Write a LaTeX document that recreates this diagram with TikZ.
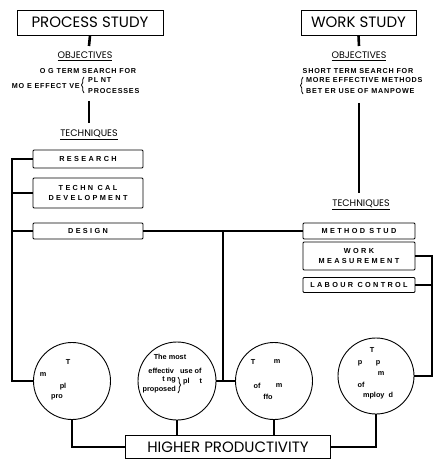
\documentclass[tikz,border=0pt]{standalone}
\usepackage{fontspec}
\setmainfont{Liberation Sans}
\newfontfamily\geo{Poppins}
\newfontfamily\lblfont{Liberation Sans}[LetterSpace=32]
\newfontfamily\txtfont{Liberation Sans}[LetterSpace=11]
\usetikzlibrary{decorations.pathreplacing}

\tikzset{
  titlebox/.style={draw, line width=0.9pt, inner sep=0pt, minimum height=25pt,
    font=\geo\fontsize{15}{15}\selectfont},
  heading/.style={inner sep=0pt, font=\geo\fontsize{9.5}{10}\selectfont},
  small/.style={inner sep=0pt, font=\txtfont\bfseries\fontsize{7.2}{8}\selectfont},
  techbox/.style={draw, line width=0.8pt, rounded corners=1pt, inner sep=0pt,
    minimum width=110pt, align=center, font=\lblfont\bfseries\fontsize{7.3}{9.5}\selectfont},
  circ/.style={circle, draw, line width=0.9pt, inner sep=0pt},
  ctext/.style={inner sep=0pt, font=\bfseries\fontsize{7.3}{8}\selectfont},
  stem/.style={line width=2.6pt},
  conn/.style={line width=1.1pt},
  curly/.style={decorate, decoration={brace, amplitude=2.5pt}, line width=0.8pt}
}

\begin{document}
\begin{tikzpicture}[x=1pt, y=-1pt]
\useasboundingbox (0,0) rectangle (439,465);

% ---- left column: process study ----
\node[titlebox, minimum width=146pt] (ps) at (90,22.5) {PROCESS STUDY};
\coordinate (psA) at (89,46);
\draw[stem] (ps.south) -- (psA);
\node[heading] (objL) at (85,56) {\underline{OBJECTIVES}};
\node[small] (objL1) at (88,71) {O G TERM SEARCH FOR};
\node[small, anchor=east] (objL2) at (80,86) {MO E EFFECT VE};
\draw[curly] (84,93) -- (84,77);
\node[small, anchor=west] (objL3) at (88,80) {PL NT};
\node[small, anchor=west] (objL4) at (88,91) {PROCESSES};
\coordinate (psB) at (89,101);
\coordinate (psC) at (89,123);
\draw[stem] (psB) -- (psC);
\node[heading] (techL) at (89,135) {\underline{TECHNIQUES}};

\node[techbox, minimum height=18pt] (res) at (88,159) {RESEARCH};
\node[techbox, minimum height=30pt] (dev) at (88,193) {TECHN CAL\\DEVELOPMENT};
\node[techbox, minimum height=16pt] (des) at (88,231) {DESIGN};

% ---- right column: work study ----
\node[titlebox, minimum width=115pt] (ws) at (358.5,22.5) {WORK STUDY};
\coordinate (wsA) at (359,46);
\draw[stem] (ws.south) -- (wsA);
\node[heading] (objR) at (359,56) {\underline{OBJECTIVES}};
\node[small] (objR1) at (358,71) {SHORT TERM SEARCH FOR};
\draw[curly] (303,94) -- (303,77);
\node[small, anchor=west] (objR2) at (306,80) {MORE EFFECTIVE METHODS};
\node[small, anchor=west] (objR3) at (306,91) {BET ER USE OF MANPOWE};
\coordinate (wsB) at (359,103);
\coordinate (wsC) at (359,193);
\draw[stem] (wsB) -- (wsC);
\node[heading] (techR) at (361,205) {\underline{TECHNIQUES}};

\node[techbox, minimum width=112pt, minimum height=16pt] (ms) at (359,231) {METHOD STUD};
\node[techbox, minimum width=112pt, minimum height=28pt] (wm) at (359,256) {WORK\\MEASUREMENT};
\node[techbox, minimum width=112pt, minimum height=15pt] (lc) at (359,285) {LABOUR CONTROL};

% ---- aims ----
\node[circ, minimum size=77pt] (c1) at (72,381) {};
\node[circ, minimum size=78pt] (c2) at (177,381) {};
\node[circ, minimum size=77pt] (c3) at (274,381) {};
\node[circ, minimum size=76pt] (c4) at (376,376) {};

\node[ctext] (c1a) at (68,362) {T};
\node[ctext] (c1b) at (43,375) {m};
\node[ctext] (c1c) at (63,387) {pl};
\node[ctext] (c1d) at (57,397) {pro};

\node[ctext] (c2a) at (170,357) {The most};
\node[ctext] (c2b) at (175,371) {effectiv\hspace{6pt}use of};
\node[ctext, anchor=east] (c2c) at (176,380) {t ng};
\node[ctext, anchor=east] (c2d) at (176,390) {proposed};
\draw[curly] (178,377) -- (178,393);
\node[ctext, anchor=west] (c2e) at (183,382) {pl\hspace{10pt}t};

\node[ctext] (c3a) at (253,362) {T};
\node[ctext] (c3b) at (277,362) {m};
\node[ctext] (c3c) at (257,386) {of};
\node[ctext] (c3d) at (279,386) {m};
\node[ctext] (c3e) at (268,397) {ffo};

\node[ctext] (c4a) at (372,350) {T};
\node[ctext] (c4b) at (360,363) {p};
\node[ctext] (c4c) at (378,363) {p};
\node[ctext] (c4d) at (381,374) {m};
\node[ctext] (c4e) at (361,385) {of};
\node[ctext] (c4f) at (378,396) {mploy\hspace{4pt}d};

\node[titlebox, minimum width=205pt, minimum height=23pt] (hp) at (228,447) {HIGHER PRODUCTIVITY};

% ---- connectors ----
\coordinate (lt) at (12,159);
\draw[conn] (res.west) -- (lt) |- (c1.west);
\draw[conn] (dev.west) -- (dev.west -| lt);
\draw[conn] (des.west) -- (des.west -| lt);

\draw[conn] (des.east) -- (ms.west);
\coordinate (jn) at (223,231);
\draw[conn] (jn) -- (jn |- c2.east);
\draw[conn] (c2.east) -- (c3.west);

\coordinate (rt) at (432,256);
\draw[conn] (wm.east) -- (rt) |- (c4.east);
\draw[conn] (lc.east) -- (lc.east -| rt);

\draw[conn] (c1.south) |- (hp.west);
\draw[conn] (c2.south) -- (c2.south |- hp.north);
\draw[conn] (c3.south) -- (c3.south |- hp.north);
\draw[conn] (c4.south) |- (hp.east);
\end{tikzpicture}
\end{document}
